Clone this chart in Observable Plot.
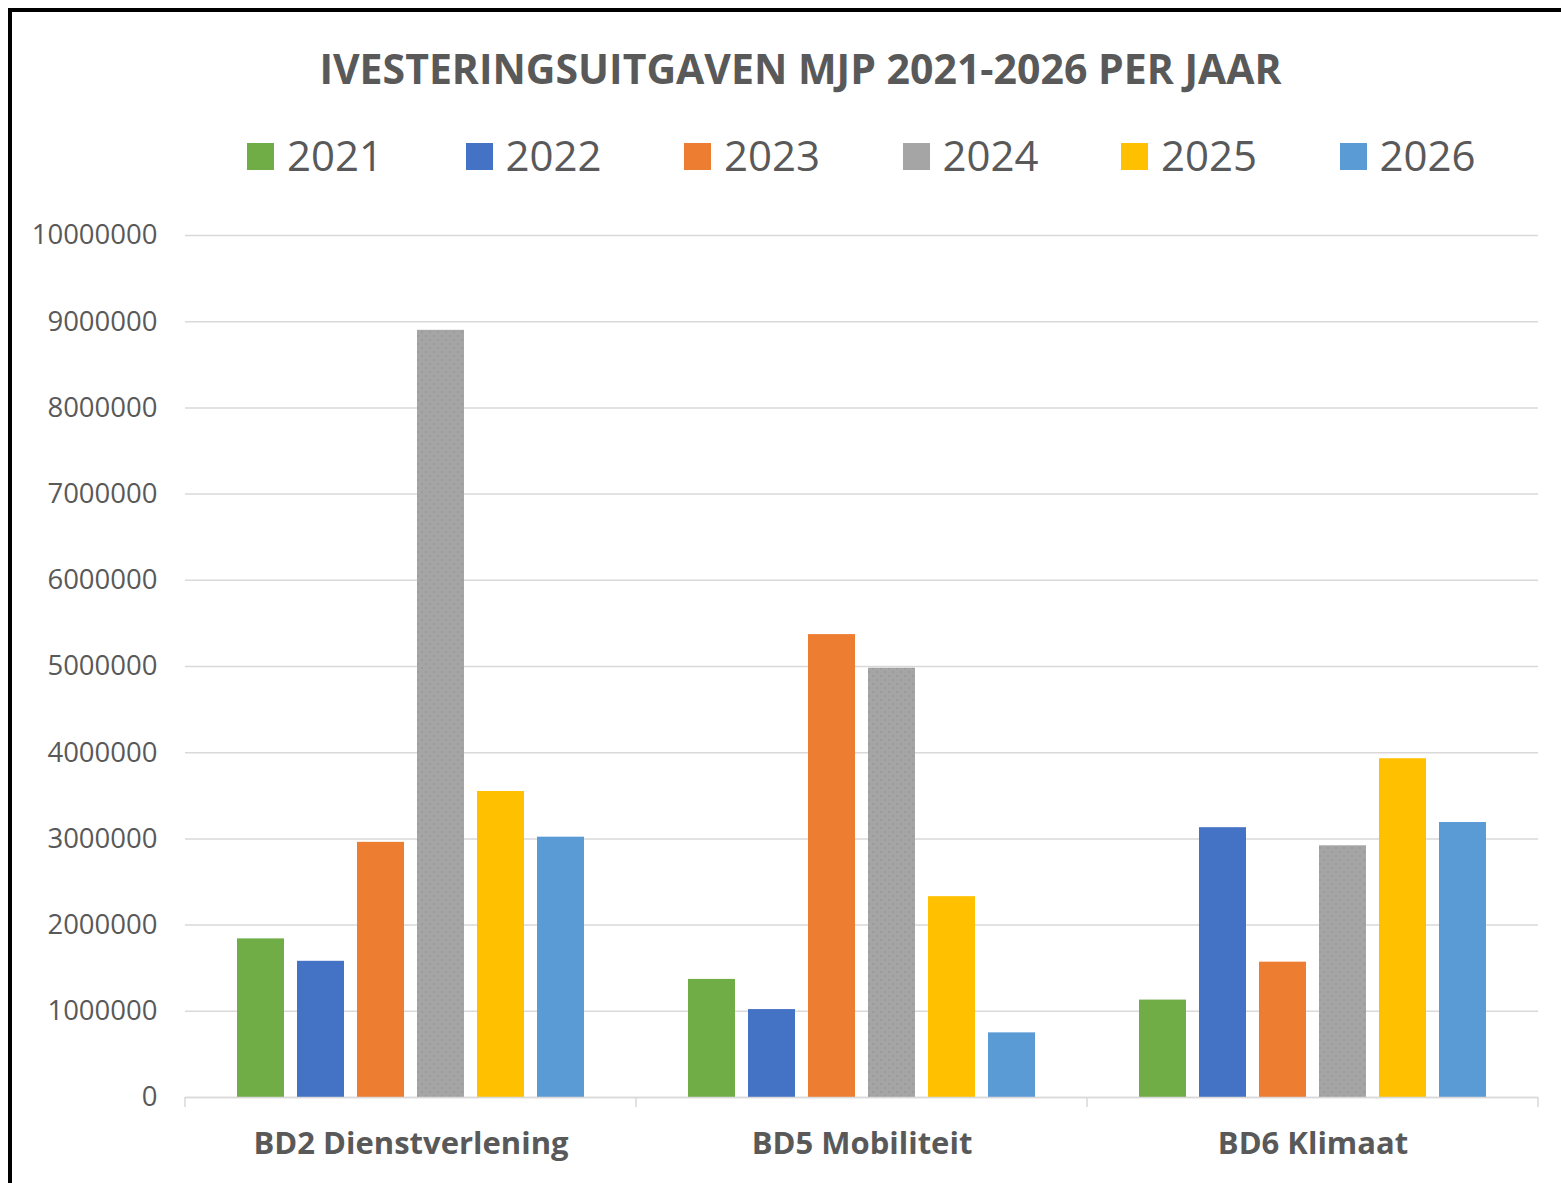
<!DOCTYPE html>
<html>
<head>
<meta charset="utf-8">
<script src="https://cdn.jsdelivr.net/npm/d3@7"></script>
<script src="https://cdn.jsdelivr.net/npm/@observablehq/plot@0.6"></script>
<style>
  html, body { margin: 0; padding: 0; background: #fff; width: 1561px; height: 1183px; overflow: hidden; }
  #frame { position: absolute; left: 8px; top: 8px; width: 1561px; height: 1183px; border-left: 4px solid #000; border-top: 4px solid #000; }
  #title { position: absolute; left: 26px; width: 1549px; top: 42px; text-align: center; font-family: "Open Sans", sans-serif; font-weight: 700; font-size: 41px; color: #595959; line-height: 52px; white-space: nowrap; }
  #legend { position: absolute; left: 247px; top: 126px; display: flex; font-family: "Open Sans", sans-serif; font-size: 42px; color: #595959; }
  .item { width: 218.5px; display: flex; align-items: center; }
  .sw { width: 27px; height: 27px; margin-right: 13px; margin-top: 4px; }
  #chart { position: absolute; left: 0; top: 190px; }
</style>
</head>
<body>
<div id="frame"></div>
<div id="title"></div>
<div id="legend"></div>
<div id="chart"></div>
<script>
const titleText = "IVESTERINGSUITGAVEN MJP 2021-2026 PER JAAR";
const categories = ["BD2 Dienstverlening", "BD5 Mobiliteit", "BD6 Klimaat"];
const years = ["2021", "2022", "2023", "2024", "2025", "2026"];
const colors = ["#70AD47", "#4472C4", "#ED7D31", "#A5A5A5", "#FFC000", "#5B9BD5"];
const v2021 = [1840000, 1370000, 1130000];
const v2022 = [1580000, 1020000, 3130000];
const v2023 = [2960000, 5370000, 1570000];
const v2024 = [8900000, 4980000, 2920000];
const v2025 = [3550000, 2330000, 3930000];
const v2026 = [3020000, 750000, 3190000];
const yTicks = [0, 1000000, 2000000, 3000000, 4000000, 5000000, 6000000, 7000000, 8000000, 9000000, 10000000];

const series = [v2021, v2022, v2023, v2024, v2025, v2026];
const rows = [];
categories.forEach((c, ci) => years.forEach((y, yi) => rows.push({cat: c, year: y, value: series[yi][ci]})));

document.getElementById("title").textContent = titleText;
const legend = document.getElementById("legend");
years.forEach((y, i) => {
  const it = document.createElement("div"); it.className = "item";
  const sw = document.createElement("div"); sw.className = "sw"; sw.style.background = colors[i];
  const tx = document.createElement("span"); tx.textContent = y;
  it.appendChild(sw); it.appendChild(tx); legend.appendChild(it);
});

const W = 1561, H = 993;
const plot = Plot.plot({
  width: W, height: H,
  marginLeft: 185, marginRight: 23, marginTop: 45, marginBottom: 86,
  style: {fontFamily: "'Open Sans', sans-serif", color: "#595959", background: "transparent"},
  fx: {domain: categories, padding: 0, label: null},
  x: {domain: years, paddingInner: 0.21, paddingOuter: 0.86, axis: null},
  y: {domain: [0, 10000000], label: null},
  color: {domain: years, range: colors},
  marks: [
    Plot.gridY(yTicks, {stroke: "#d9d9d9", strokeOpacity: 1, strokeWidth: 1.5}),
    Plot.axisY(yTicks, {tickSize: 0, tickPadding: 28, tickFormat: d => String(d), fontSize: 27.5, fill: "#595959", label: null}),
    Plot.barY(rows, {fx: "cat", x: "year", y: "value", fill: "year"}),
    Plot.ruleY([0], {stroke: "#d9d9d9", strokeWidth: 1.5}),
    Plot.axisFx({anchor: "bottom", tickSize: 0, tickPadding: 34, fontSize: 31, fontWeight: "bold", fill: "#595959", label: null})
  ]
});

const svg = d3.select(plot);
// dotted texture for grey bars (select bar rects before adding the pattern)
const greyBars = svg.selectAll("rect").filter(function() { return this.getAttribute("fill") === colors[3]; });
const defs = svg.insert("defs", ":first-child");
const pat = defs.append("pattern").attr("id", "dots").attr("width", 8).attr("height", 8).attr("patternUnits", "userSpaceOnUse");
pat.append("rect").attr("width", 8).attr("height", 8).attr("fill", colors[3]);
pat.append("circle").attr("cx", 2).attr("cy", 2).attr("r", 0.8).attr("fill", "#8e8e8e");
pat.append("circle").attr("cx", 6).attr("cy", 6).attr("r", 0.8).attr("fill", "#8e8e8e");
greyBars.attr("fill", "url(#dots)");

// category separator ticks at band boundaries, positioned via the plot's scales
const fx = plot.scale("fx"), ys = plot.scale("y");
const y0 = ys.apply(0);
const bounds = categories.map(c => fx.apply(c)).concat([fx.apply(categories[categories.length - 1]) + fx.bandwidth]);
svg.append("g").selectAll("line").data(bounds).join("line")
  .attr("x1", d => d).attr("x2", d => d).attr("y1", y0).attr("y2", y0 + 10)
  .attr("stroke", "#d9d9d9").attr("stroke-width", 1.5);

document.getElementById("chart").appendChild(plot);
</script>
</body>
</html>
